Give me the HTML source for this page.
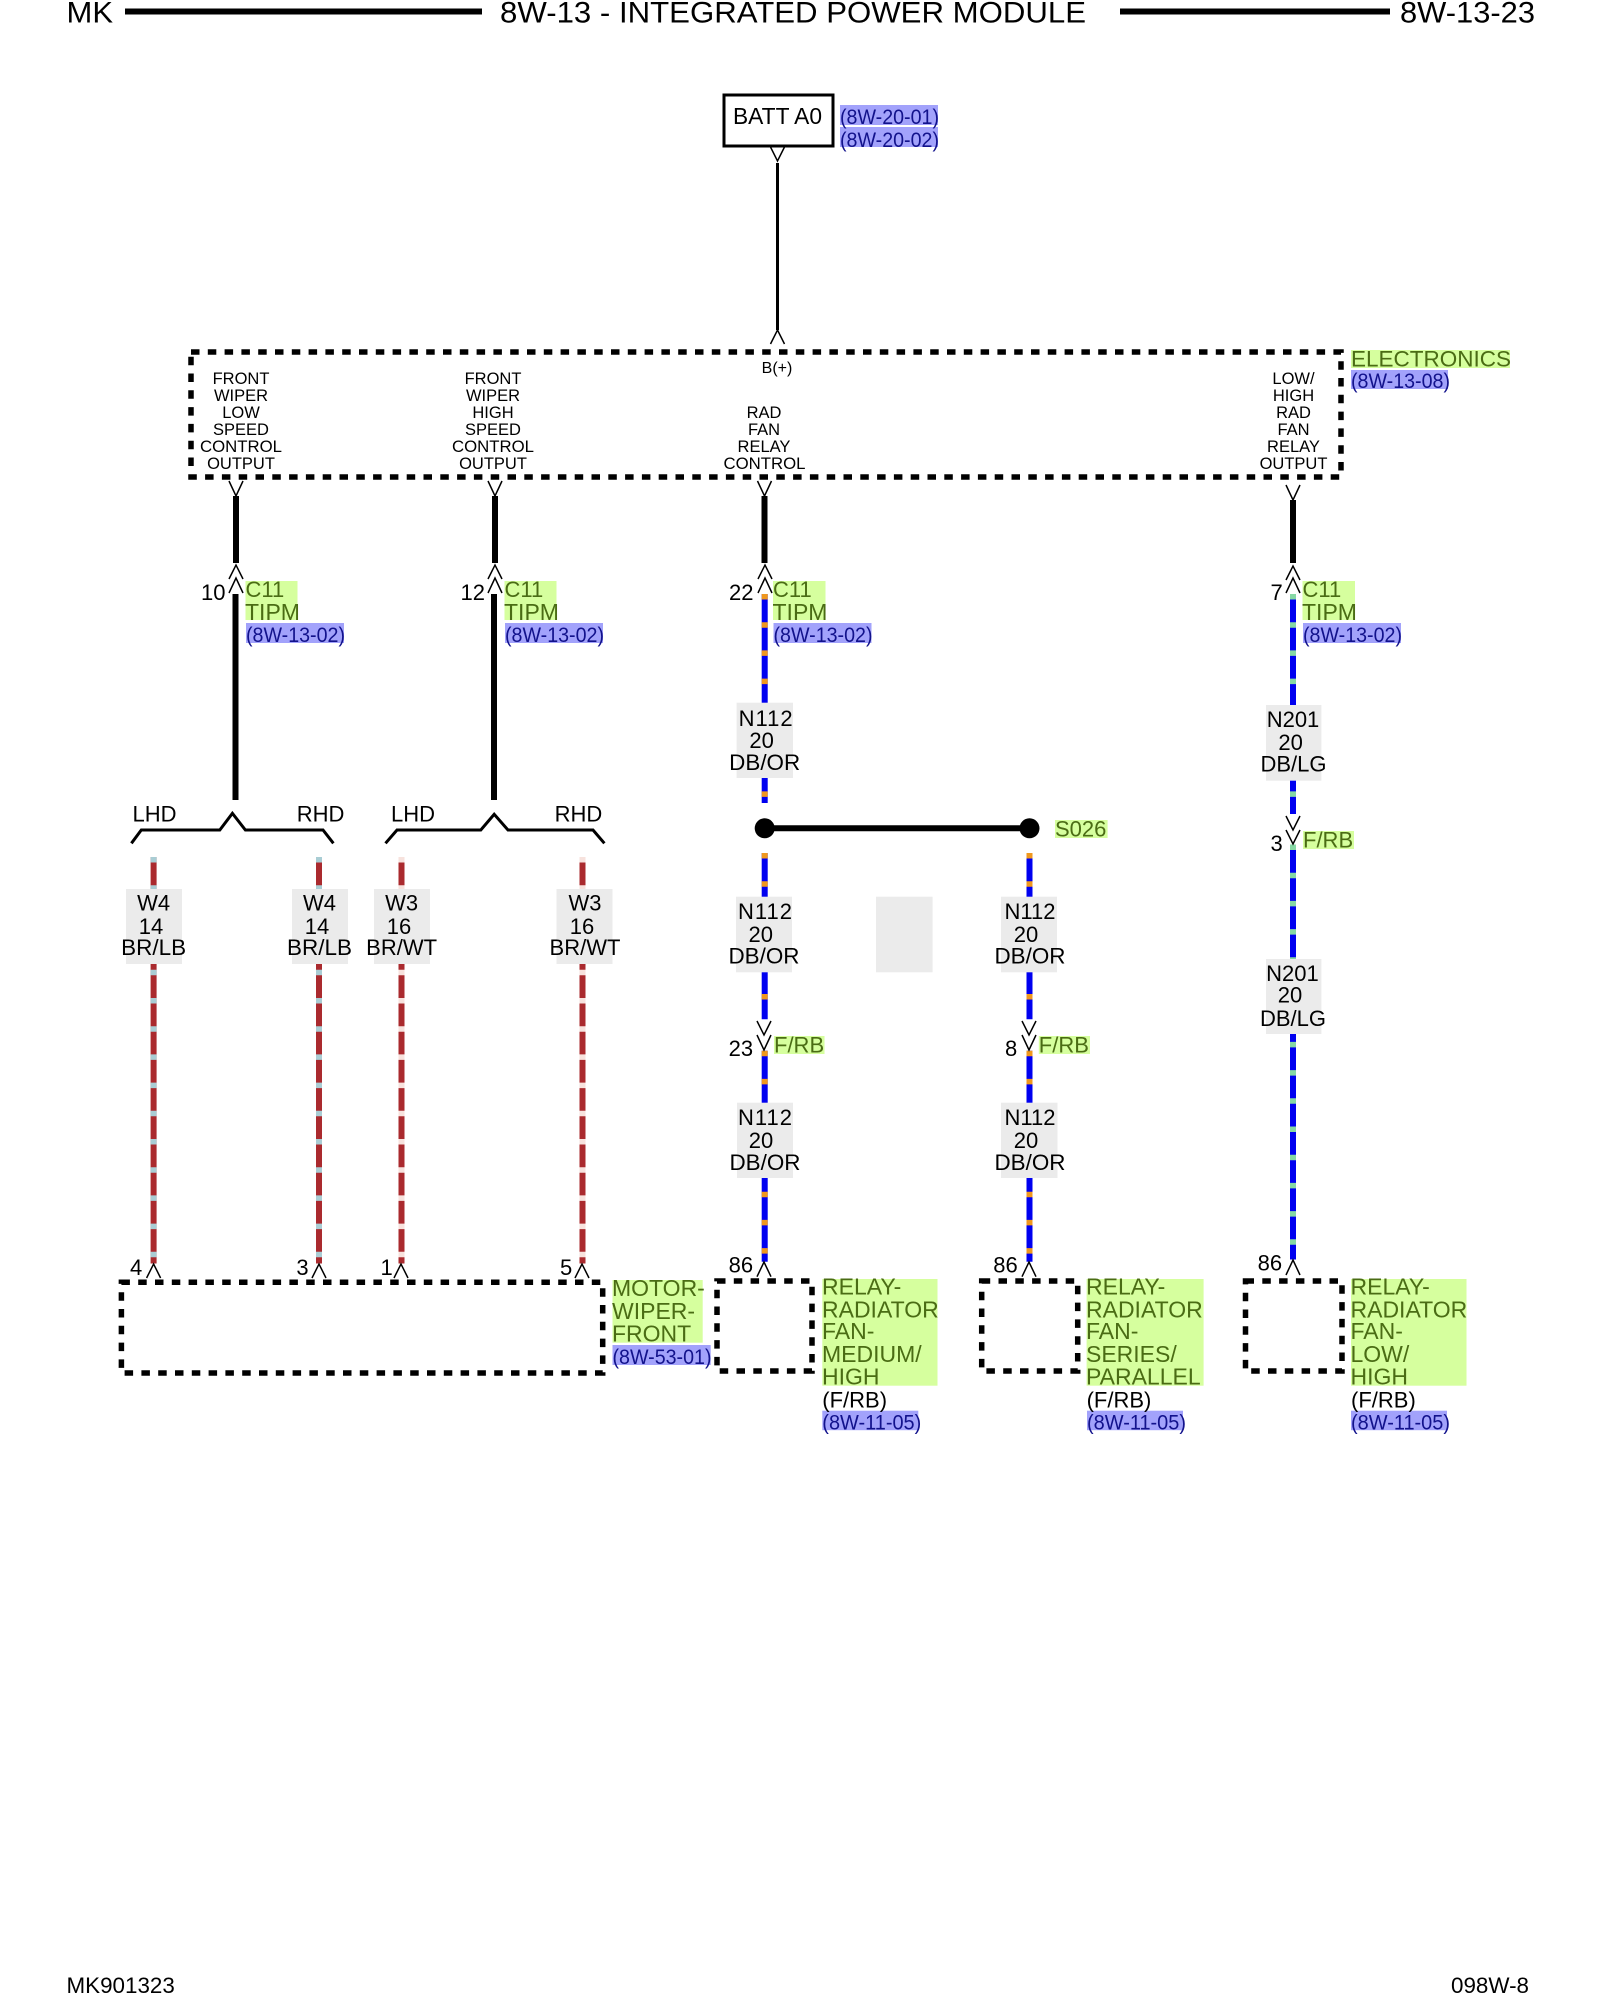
<!DOCTYPE html>
<html><head><meta charset="utf-8"><title>8W-13-23</title>
<style>
html,body{margin:0;padding:0;background:#fff}
svg{display:block}
text{font-family:"Liberation Sans",sans-serif;font-size:22px;fill:#000}
.m{text-anchor:middle}
.s{font-size:16.5px;text-anchor:middle}
.g{fill:#4a6c14}
.gl{fill:#4a6c14;font-size:23px}
.r{fill:#12128c;font-size:21.7px}
.gb{fill:#d6ff9e}
.rb{fill:#a2a2fb}
.lb{fill:#ebebeb}
.a{fill:none;stroke:#000;stroke-width:1.5}
.d{fill:none;stroke:#000;stroke-width:5.5;stroke-dasharray:8.5 8.3}
.k{stroke:#000;stroke-width:6}
.bl{stroke:#0000f0;stroke-width:6}
.or{stroke:#f0981e;stroke-width:6;stroke-dasharray:5.5 22.7}
.lg{stroke:#86d8a4;stroke-width:6;stroke-dasharray:5.5 22.7}
.rd{stroke:#aa2a2e;stroke-width:6}
.lbw{stroke:#a9cdd4;stroke-width:6;stroke-dasharray:5.5 22.7}
.wt{stroke:#f7e2dd;stroke-width:6;stroke-dasharray:5.5 22.7}
</style></head><body>
<svg xmlns="http://www.w3.org/2000/svg" width="1600" height="2000" viewBox="0 0 1600 2000">
<rect width="1600" height="2000" fill="#fff"/>

<!-- header -->
<text x="66.5" y="22.5" style="font-size:30px" textLength="46.5" lengthAdjust="spacingAndGlyphs">MK</text>
<rect x="125" y="8.5" width="357" height="6"/>
<text x="500" y="22.5" style="font-size:30px" textLength="586" lengthAdjust="spacingAndGlyphs">8W-13 - INTEGRATED POWER MODULE</text>
<rect x="1120" y="8.5" width="270" height="6"/>
<text x="1400" y="22.5" style="font-size:30px" textLength="135" lengthAdjust="spacingAndGlyphs">8W-13-23</text>

<!-- BATT -->
<rect x="724" y="95" width="109" height="51" fill="none" stroke="#000" stroke-width="3"/>
<text x="733" y="124" style="font-size:23px" textLength="89" lengthAdjust="spacingAndGlyphs">BATT A0</text>
<rect class="rb" x="840" y="105" width="98" height="20"/>
<rect class="rb" x="840" y="127" width="98" height="20"/>
<text class="r" x="840" y="124" textLength="99" lengthAdjust="spacingAndGlyphs">(8W-20-01)</text>
<text class="r" x="840" y="147" textLength="99" lengthAdjust="spacingAndGlyphs">(8W-20-02)</text>
<polyline class="a" points="770.5,147 777.5,161 784.5,147"/>
<line x1="777.5" y1="163" x2="777.5" y2="330" stroke="#000" stroke-width="3"/>
<polyline class="a" points="770.5,344 777.5,330 784.5,344"/>

<!-- Electronics -->
<rect class="d" x="191" y="352" width="1150" height="125"/>
<text class="s" x="777" y="373" style="font-size:16px">B(+)</text>
<rect class="gb" x="1351" y="350" width="159" height="18"/>
<text class="g" x="1351" y="366.5" textLength="160" lengthAdjust="spacingAndGlyphs">ELECTRONICS</text>
<rect class="rb" x="1351" y="370" width="97" height="19"/>
<text class="r" x="1351" y="388" textLength="99" lengthAdjust="spacingAndGlyphs">(8W-13-08)</text>

<text class="s" x="241" y="384">FRONT</text><text class="s" x="241" y="401">WIPER</text><text class="s" x="241" y="418">LOW</text><text class="s" x="241" y="435">SPEED</text><text class="s" x="241" y="452" textLength="82" lengthAdjust="spacingAndGlyphs">CONTROL</text><text class="s" x="241" y="469">OUTPUT</text>
<text class="s" x="493" y="384">FRONT</text><text class="s" x="493" y="401">WIPER</text><text class="s" x="493" y="418">HIGH</text><text class="s" x="493" y="435">SPEED</text><text class="s" x="493" y="452" textLength="82" lengthAdjust="spacingAndGlyphs">CONTROL</text><text class="s" x="493" y="469">OUTPUT</text>
<text class="s" x="764" y="418">RAD</text><text class="s" x="764" y="435">FAN</text><text class="s" x="764" y="452">RELAY</text><text class="s" x="764.5" y="469" textLength="82" lengthAdjust="spacingAndGlyphs">CONTROL</text>
<text class="s" x="1293.5" y="384">LOW/</text><text class="s" x="1293.5" y="401">HIGH</text><text class="s" x="1293.5" y="418">RAD</text><text class="s" x="1293.5" y="435">FAN</text><text class="s" x="1293.5" y="452">RELAY</text><text class="s" x="1293.5" y="469">OUTPUT</text>

<!-- arrows under electronics -->
<polyline class="a" points="229,481 236,496 243,481"/>
<polyline class="a" points="488,481 495,496 502,481"/>
<polyline class="a" points="757.5,481 764.5,496 771.5,481"/>
<polyline class="a" points="1286,485 1293,500 1300,485"/>

<!-- black wires -->
<line class="k" x1="236" y1="496" x2="236" y2="563"/>
<line class="k" x1="495" y1="496" x2="495" y2="563"/>
<line class="k" x1="764.5" y1="496" x2="764.5" y2="563"/>
<line class="k" x1="1293" y1="500" x2="1293" y2="563"/>
<line class="k" x1="235.5" y1="594" x2="235.5" y2="800"/>
<line class="k" x1="494" y1="594" x2="494" y2="800"/>

<!-- double connectors C11 -->
<polyline class="a" points="229,579 236,565 243,579"/><polyline class="a" points="229,593 236,578 243,593"/>
<polyline class="a" points="488,579 495,565 502,579"/><polyline class="a" points="488,593 495,578 502,593"/>
<polyline class="a" points="758,579 765,565 772,579"/><polyline class="a" points="758,593 765,578 772,593"/>
<polyline class="a" points="1286,580 1293,566 1300,580"/><polyline class="a" points="1286,593 1293,578 1300,593"/>

<text x="201" y="600">10</text>
<text x="460.5" y="600">12</text>
<text x="729" y="600">22</text>
<text x="1270.5" y="600">7</text>

<rect class="gb" x="245.5" y="581" width="52" height="39"/>
<rect class="gb" x="504.5" y="581" width="52" height="39"/>
<rect class="gb" x="773" y="581" width="52.5" height="39"/>
<rect class="gb" x="1302.5" y="581" width="52.5" height="39"/>
<rect class="rb" x="246" y="623" width="98" height="20"/>
<rect class="rb" x="505" y="623" width="98" height="20"/>
<rect class="rb" x="773.5" y="623" width="98" height="20"/>
<rect class="rb" x="1303" y="623" width="98" height="20"/>
<text class="g" x="245.5" y="597">C11</text><text class="gl" x="245" y="620">TIPM</text><text class="r" x="246" y="642" textLength="99" lengthAdjust="spacingAndGlyphs">(8W-13-02)</text>
<text class="g" x="504.5" y="597">C11</text><text class="gl" x="504" y="620">TIPM</text><text class="r" x="505" y="642" textLength="99" lengthAdjust="spacingAndGlyphs">(8W-13-02)</text>
<text class="g" x="773" y="597">C11</text><text class="gl" x="772.5" y="620">TIPM</text><text class="r" x="773.5" y="642" textLength="99" lengthAdjust="spacingAndGlyphs">(8W-13-02)</text>
<text class="g" x="1302.5" y="597">C11</text><text class="gl" x="1302" y="620">TIPM</text><text class="r" x="1303" y="642" textLength="99" lengthAdjust="spacingAndGlyphs">(8W-13-02)</text>

<!-- LHD/RHD -->
<polyline points="131.4,843.3 141.3,830 219.8,830 232.4,813.3 245.4,830 323,830 333.4,843.3" fill="none" stroke="#000" stroke-width="3"/>
<polyline points="385.5,843.3 397,830 480.8,830 494.2,814.3 508,830 593,830 604.4,843.3" fill="none" stroke="#000" stroke-width="3"/>
<text x="132.5" y="821.5">LHD</text><text x="296.7" y="821.5">RHD</text>
<text x="391" y="821.5">LHD</text><text x="554.6" y="821.5">RHD</text>

<!-- red wires -->
<line class="rd" x1="153.6" y1="857" x2="153.6" y2="1263.5"/><line class="lbw" x1="153.6" y1="857" x2="153.6" y2="1263.5"/>
<line class="rd" x1="319" y1="857" x2="319" y2="1263.5"/><line class="lbw" x1="319" y1="857" x2="319" y2="1263.5"/>
<line class="rd" x1="401.5" y1="857" x2="401.5" y2="1263.5"/><line class="wt" x1="401.5" y1="857" x2="401.5" y2="1263.5"/>
<line class="rd" x1="582.5" y1="857" x2="582.5" y2="1263.5"/><line class="wt" x1="582.5" y1="857" x2="582.5" y2="1263.5"/>

<!-- blue wires -->
<line class="bl" x1="764.7" y1="594" x2="764.7" y2="803"/><line class="or" x1="764.7" y1="594" x2="764.7" y2="803"/>
<line class="bl" x1="764.7" y1="853" x2="764.7" y2="1019.3"/><line class="or" x1="764.7" y1="853" x2="764.7" y2="1019.3"/>
<line class="bl" x1="764.7" y1="1050.7" x2="764.7" y2="1261.7"/><line class="or" x1="764.7" y1="1050.7" x2="764.7" y2="1261.7"/>
<line class="bl" x1="1029.5" y1="853" x2="1029.5" y2="1019.3"/><line class="or" x1="1029.5" y1="853" x2="1029.5" y2="1019.3"/>
<line class="bl" x1="1029.5" y1="1050.7" x2="1029.5" y2="1261.7"/><line class="or" x1="1029.5" y1="1050.7" x2="1029.5" y2="1261.7"/>
<line class="bl" x1="1293" y1="594" x2="1293" y2="814"/><line class="lg" x1="1293" y1="594" x2="1293" y2="814"/>
<line class="bl" x1="1293" y1="844.5" x2="1293" y2="1259.5"/><line class="lg" x1="1293" y1="844.5" x2="1293" y2="1259.5"/>

<!-- wire label boxes -->
<rect class="lb" x="126" y="889" width="56" height="75"/>
<rect class="lb" x="292" y="889" width="56" height="75"/>
<rect class="lb" x="374" y="889" width="56" height="75"/>
<rect class="lb" x="556.5" y="889" width="56" height="75"/>
<rect class="lb" x="736.6" y="702.7" width="56.4" height="75.3"/>
<rect class="lb" x="736" y="896.7" width="56" height="75.6"/>
<rect class="lb" x="876" y="896.7" width="56.6" height="75.6"/>
<rect class="lb" x="1001" y="896.7" width="56" height="75.6"/>
<rect class="lb" x="737" y="1102.7" width="56" height="75.3"/>
<rect class="lb" x="1001" y="1102.7" width="56.5" height="75.3"/>
<rect class="lb" x="1266" y="705" width="55.4" height="75.7"/>
<rect class="lb" x="1266" y="959" width="55.4" height="75"/>

<text class="m" x="153.6" y="910.7">W4</text><text class="m" x="151" y="934">14</text><text class="m" x="153.6" y="955" textLength="65" lengthAdjust="spacingAndGlyphs">BR/LB</text>
<text class="m" x="319.5" y="910.7">W4</text><text class="m" x="317" y="934">14</text><text class="m" x="319.5" y="955" textLength="65" lengthAdjust="spacingAndGlyphs">BR/LB</text>
<text class="m" x="401.6" y="910.7">W3</text><text class="m" x="399" y="934">16</text><text class="m" x="401.6" y="955">BR/WT</text>
<text class="m" x="585" y="910.7">W3</text><text class="m" x="582" y="934">16</text><text class="m" x="585" y="955">BR/WT</text>

<text class="m" x="765.6" y="726" textLength="54" lengthAdjust="spacing">N112</text><text class="m" x="761.6" y="748">20</text><text class="m" x="764.7" y="770" textLength="71" lengthAdjust="spacingAndGlyphs">DB/OR</text>
<text class="m" x="765" y="919" textLength="54" lengthAdjust="spacing">N112</text><text class="m" x="760.7" y="942">20</text><text class="m" x="764" y="963.5" textLength="71" lengthAdjust="spacingAndGlyphs">DB/OR</text>
<text class="m" x="1030" y="919">N112</text><text class="m" x="1026" y="942">20</text><text class="m" x="1030" y="963.5" textLength="71" lengthAdjust="spacingAndGlyphs">DB/OR</text>
<text class="m" x="765" y="1125" textLength="54" lengthAdjust="spacing">N112</text><text class="m" x="761" y="1148">20</text><text class="m" x="765" y="1170" textLength="71" lengthAdjust="spacingAndGlyphs">DB/OR</text>
<text class="m" x="1030" y="1125">N112</text><text class="m" x="1026" y="1148">20</text><text class="m" x="1030" y="1170" textLength="71" lengthAdjust="spacingAndGlyphs">DB/OR</text>
<text class="m" x="1293" y="727">N201</text><text class="m" x="1290.6" y="750">20</text><text class="m" x="1293.5" y="771.7">DB/LG</text>
<text class="m" x="1292.4" y="981">N201</text><text class="m" x="1290" y="1002.7">20</text><text class="m" x="1293" y="1026">DB/LG</text>

<!-- splice -->
<line class="k" x1="764.7" y1="828.3" x2="1029" y2="828.3"/>
<circle cx="764.7" cy="828.3" r="10"/>
<circle cx="1029.5" cy="828.3" r="10"/>
<rect class="gb" x="1055" y="820" width="52.6" height="18"/>
<text class="g" x="1055" y="836.5">S026</text>

<!-- F/RB connectors -->
<polyline class="a" points="757,1021 764,1035 771,1021"/><polyline class="a" points="757,1035 764,1050 771,1035"/>
<polyline class="a" points="1022,1021 1029,1035 1036,1021"/><polyline class="a" points="1022,1035 1029,1050 1036,1035"/>
<polyline class="a" points="1286,816 1293,830 1300,816"/><polyline class="a" points="1286,830 1293,844 1300,830"/>
<text x="728.6" y="1056">23</text>
<text x="1005" y="1056">8</text>
<text x="1270.5" y="851">3</text>
<rect class="gb" x="774" y="1036" width="50.5" height="18"/>
<rect class="gb" x="1038.8" y="1036" width="51.2" height="18"/>
<rect class="gb" x="1303" y="831" width="51" height="18"/>
<text class="g" x="774" y="1052.7">F/RB</text>
<text class="g" x="1038.8" y="1052.7">F/RB</text>
<text class="g" x="1303" y="847.7">F/RB</text>

<!-- bottom pins -->
<polyline class="a" points="146.6,1278 153.6,1264 160.6,1278"/>
<polyline class="a" points="312,1278 319,1264 326,1278"/>
<polyline class="a" points="394,1278 401,1264 408,1278"/>
<polyline class="a" points="575,1278 582,1264 589,1278"/>
<polyline class="a" points="757,1276.7 764,1262 771,1276.7"/>
<polyline class="a" points="1022,1276.7 1029,1262 1036,1276.7"/>
<polyline class="a" points="1286,1275 1293,1260 1300,1275"/>
<text x="130" y="1275">4</text><text x="296.4" y="1275">3</text><text x="380.5" y="1275">1</text><text x="560" y="1275">5</text>
<text x="728.6" y="1272.5">86</text><text x="993.3" y="1272.5">86</text><text x="1257.6" y="1270.5">86</text>

<!-- bottom boxes -->
<rect class="d" x="121.4" y="1282.3" width="481.3" height="90.7"/>
<rect class="d" x="717" y="1281" width="95" height="90"/>
<rect class="d" x="981.7" y="1281" width="96" height="90"/>
<rect class="d" x="1245.5" y="1281" width="96.5" height="90"/>

<rect class="gb" x="612.5" y="1280" width="90.2" height="62.7"/>
<rect class="rb" x="612.5" y="1345" width="98.2" height="20"/>
<text class="gl" x="612" y="1296.2">MOTOR-</text><text class="gl" x="612" y="1319">WIPER-</text><text class="gl" x="612" y="1341.7">FRONT</text>
<text class="r" x="612.5" y="1364" textLength="99" lengthAdjust="spacingAndGlyphs">(8W-53-01)</text>

<rect class="gb" x="822.3" y="1279" width="115.2" height="106.7"/>
<rect class="gb" x="1086.6" y="1279" width="117" height="106.7"/>
<rect class="gb" x="1351" y="1279" width="115.5" height="106.7"/>
<rect class="rb" x="822.3" y="1410.7" width="96" height="19.5"/>
<rect class="rb" x="1087" y="1410.7" width="96" height="19.5"/>
<rect class="rb" x="1351" y="1410.7" width="96" height="19.5"/>

<text class="gl" x="822" y="1294.3">RELAY-</text><text class="gl" x="822" y="1317.7">RADIATOR</text><text class="gl" x="822" y="1339">FAN-</text><text class="gl" x="822" y="1362">MEDIUM/</text><text class="gl" x="822" y="1384.3">HIGH</text>
<text x="822.3" y="1407.7">(F/RB)</text><text class="r" x="822.3" y="1429.5" textLength="99" lengthAdjust="spacingAndGlyphs">(8W-11-05)</text>

<text class="gl" x="1086" y="1294.3">RELAY-</text><text class="gl" x="1086" y="1317.7">RADIATOR</text><text class="gl" x="1086" y="1339">FAN-</text><text class="gl" x="1086" y="1362">SERIES/</text><text class="gl" x="1086" y="1384.3">PARALLEL</text>
<text x="1086.6" y="1407.7">(F/RB)</text><text class="r" x="1087" y="1429.5" textLength="99" lengthAdjust="spacingAndGlyphs">(8W-11-05)</text>

<text class="gl" x="1350.5" y="1294.3">RELAY-</text><text class="gl" x="1350.5" y="1317.7">RADIATOR</text><text class="gl" x="1350.5" y="1339">FAN-</text><text class="gl" x="1350.5" y="1362">LOW/</text><text class="gl" x="1350.5" y="1384.3">HIGH</text>
<text x="1351" y="1407.7">(F/RB)</text><text class="r" x="1351" y="1429.5" textLength="99" lengthAdjust="spacingAndGlyphs">(8W-11-05)</text>

<!-- footer -->
<text x="66.5" y="1993" style="font-size:22.4px">MK901323</text>
<text x="1451" y="1993" style="font-size:22.4px">098W-8</text>
</svg>
</body></html>
